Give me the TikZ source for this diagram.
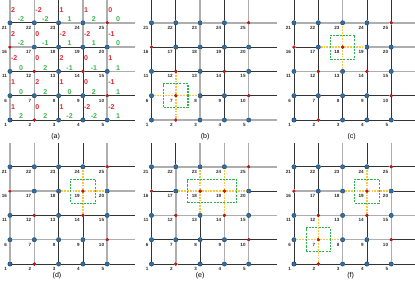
\documentclass[tikz,border=0pt]{standalone}
\usepackage{fontspec}
\setmainfont{Liberation Sans}
\usepackage{xcolor}
\usepackage{tikz}
\usetikzlibrary{arrows.meta,positioning,calc}

\definecolor{nodeblue}{HTML}{2F6FA8}
\definecolor{nodeline}{HTML}{1B3550}
\definecolor{nodered}{HTML}{DD1111}
\definecolor{edgedark}{HTML}{333333}
\definecolor{edgegray}{HTML}{AEAEAE}
\definecolor{pathyellow}{HTML}{F7C843}
\definecolor{boxgreen}{HTML}{2DB34E}
\definecolor{numred}{HTML}{E0262C}
\definecolor{numgreen}{HTML}{3AB54A}

% all links of one 5x5 grid (u = open end on top, e = open end on the right)
\def\gridlinks{1/6,6/11,11/16,16/21,21/u1,2/7,7/12,12/17,17/22,22/u2,3/8,8/13,13/18,18/23,23/u3,4/9,9/14,14/19,19/24,24/u4,5/10,10/15,15/20,20/25,25/u5,1/2,2/3,3/4,4/5,5/e1,6/7,7/8,8/9,9/10,10/e2,11/12,12/13,13/14,14/15,15/e3,16/17,17/18,18/19,19/20,20/e4,21/22,22/23,23/24,24/25,25/e5}

% #1 prefix, #2/#3 position of node 1, #4 blue nodes, #5 red nodes
\newcommand\gridnodes[5]{%
  \foreach \n in {#4}{%
    \pgfmathtruncatemacro\cc{mod(\n-1,5)}%
    \pgfmathtruncatemacro\rr{div(\n-1,5)}%
    \node[vtx] (#1\n) at ({#2+24.3*\cc},{#3-24.3*\rr}) {};}
  \foreach \n in {#5}{%
    \pgfmathtruncatemacro\cc{mod(\n-1,5)}%
    \pgfmathtruncatemacro\rr{div(\n-1,5)}%
    \node[hot] (#1\n) at ({#2+24.3*\cc},{#3-24.3*\rr}) {};}
  \foreach \n in {1,...,25}
    \node[lbl] (#1l\n) at ([xshift=-1.5mm,yshift=-1.6mm]#1\n.center) {\n};
  \foreach \k in {1,...,5}{%
    \coordinate (#1u\k) at ({#2+24.3*(\k-1)},{#3-24.3*4-23.5});
    \coordinate (#1e\k) at ({#2+24.3*4+28},{#3-24.3*(\k-1)});}
}
% #1 prefix, #2 style, #3 list of links
\newcommand\links[3]{%
  \edef\linklist{#3}%
  \foreach \p/\q in \linklist {\draw[#2] (#1\p) -- (#1\q);}
}

\begin{document}
\begin{tikzpicture}[x=0.5mm, y=-0.5mm,
  vtx/.style={circle, draw=nodeline, fill=nodeblue, line width=0.5pt, minimum size=2.2mm, inner sep=0pt},
  hot/.style={circle, draw=nodered!60!black, fill=nodered, line width=0.4pt, minimum size=1.6mm, inner sep=0pt},
  lbl/.style={anchor=north east, inner sep=0pt, text=black!85, font=\fontsize{6.5}{7}\selectfont\bfseries},
  hard/.style={draw, color=edgedark, line width=0.9pt},
  soft/.style={draw, color=edgegray, line width=2pt},
  gap/.style={draw, color=white, line width=2.4pt},
  trace/.style={draw, color=pathyellow, line width=2.2pt, dash pattern=on 2.6pt off 1.5pt},
  selbox/.style={draw, color=boxgreen, line width=1.5pt, dash pattern=on 3pt off 1.6pt, minimum width=12.2mm, minimum height=12mm, inner sep=0pt},
  wv/.style={anchor=west, inner sep=0pt, text=numred, font=\fontsize{10}{10}\selectfont\bfseries},
  wh/.style={inner sep=0pt, text=numgreen, font=\fontsize{10}{10}\selectfont\bfseries},
  panelcap/.style={inner sep=0pt, font=\fontsize{10}{12}\selectfont}]
  \useasboundingbox (0,0) rectangle (415,285);

  % (a) weights
  \begin{scope}
  \gridnodes{a}{10}{120}{1,3,4,5,6,7,8,9,11,13,15,17,18,19,20,21,22,23,24}{2,10,12,14,16,25}
  \links{a}{hard}{\gridlinks}
  \links{a}{soft}{1/6,6/11,11/16,16/21,21/u1,2/7,7/12,12/17,17/22,22/u2,19/24,24/u4,5/10,10/15,15/20,20/25,25/u5,23/24,24/25,25/e5,16/17,20/e4,15/e3}
  \foreach \n/\v/\h in {1/1/2,2/0/2,3/1/-2,4/-2/-2,5/-2/1,6/1/0,7/2/2,8/1/0,9/0/2,10/-1/1,
      11/-2/0,12/0/2,13/2/-1,14/0/-1,15/1/1,16/2/-2,17/0/-1,18/-2/1,19/-2/1,20/-1/0,
      21/2/-2,22/-2/-2,23/1/1,24/1/2,25/0/0}{
    \node[wv] (av\n) at ([xshift=0.5mm,yshift=6.6mm]a\n.center) {\v};
    \node[wh] (ah\n) at ([xshift=5.5mm,yshift=1.8mm]a\n.center) {\h};
  }
  \node[panelcap] (acap) at ([xshift=-1.5mm,yshift=-8.5mm]a3.center) {(a)};
  \end{scope}

  % (b)
  \begin{scope}
  \gridnodes{b}{151.5}{120}{1,3,4,5,6,8,9,11,13,15,17,18,19,20,21,22,23,24}{2,7,10,12,14,16,25}
  \links{b}{hard}{\gridlinks}
  \links{b}{soft}{3/8,8/13,13/18,18/23,23/u3,5/10,10/15,15/20,20/25,25/u5,21/22,22/23,23/24,24/25,25/e5,1/2,2/3,3/4,4/5,5/e1}
  \links{b}{gap}{7/12,2/7,6/7,7/8}
  \links{b}{trace}{7/12,2/7,6/7,7/8}
  \node[selbox] (bsel) at (b7) {};
  \node[panelcap] (bcap) at ([xshift=2.5mm,yshift=-8.5mm]b3.center) {(b)};
  \end{scope}

  % (c)
  \begin{scope}
  \gridnodes{c}{294}{120}{1,3,4,5,6,7,8,9,11,13,15,17,19,20,21,22,23,24}{2,10,12,14,16,18,25}
  \links{c}{hard}{\gridlinks}
  \links{c}{soft}{23/u3,21/22,22/23,23/24,24/25,25/e5,19/20,20/e4,11/12,12/13,13/14,14/15,15/e3}
  \links{c}{gap}{18/23,13/18,17/18,18/19}
  \links{c}{trace}{18/23,13/18,17/18,18/19}
  \node[selbox] (csel) at (c18) {};
  \node[panelcap] (ccap) at ([xshift=4.5mm,yshift=-8.5mm]c3.center) {(c)};
  \end{scope}

  % (d)
  \begin{scope}
  \gridnodes{d}{10}{264}{1,3,4,5,6,7,8,9,11,13,15,17,18,20,21,22,23,24}{2,10,12,14,16,19,25}
  \links{d}{hard}{\gridlinks}
  \links{d}{soft}{1/6,6/11,11/16,16/21,21/u1,2/7,7/12,12/17,17/22,22/u2,5/10,10/15,15/20,20/25,25/u5,16/17,17/18,20/e4,6/7,7/8,8/9,9/10,10/e2}
  \links{d}{gap}{19/24,14/19,18/19,19/20}
  \links{d}{trace}{19/24,14/19,18/19,19/20}
  \node[selbox] (dsel) at (d19) {};
  \node[panelcap] (dcap) at ([xshift=-0.8mm,yshift=-6mm]d3.center) {(d)};
  \end{scope}

  % (e)
  \begin{scope}
  \gridnodes{e}{151.5}{264}{1,3,4,5,6,7,8,9,11,13,15,17,20,21,22,23,24}{2,10,12,14,16,18,19,25}
  \links{e}{hard}{\gridlinks}
  \links{e}{soft}{23/u3,24/u4,4/9,9/14,2/7,7/12,12/17,17/22,5/10,10/15,15/20,20/25,25/u5,21/22,22/23,23/24,24/25,25/e5,11/12,12/13,13/14,14/15,15/e3}
  \links{e}{gap}{18/23,13/18,17/18,18/19,19/24,14/19,19/20}
  \links{e}{trace}{18/23,13/18,17/18,18/19,19/24,14/19,19/20}
  \node[selbox, minimum width=24.5mm, minimum height=11.6mm] (esel) at ($(e18)!0.5!(e19)$) {};
  \node[panelcap] (ecap) at ([yshift=-6mm]e3.center) {(e)};
  \end{scope}

  % (f)
  \begin{scope}
  \gridnodes{f}{294}{264}{1,3,4,5,6,8,9,11,13,15,17,18,20,21,22,23,24}{2,7,10,12,14,16,19,25}
  \links{f}{hard}{\gridlinks}
  \links{f}{soft}{3/8,8/13,13/18,18/23,23/u3,5/10,10/15,15/20,20/25,25/u5,16/17,17/18,11/12,12/13,13/14,14/15,15/e3,8/9,9/10}
  \links{f}{gap}{7/12,2/7,6/7,7/8,19/24,14/19,18/19,19/20}
  \links{f}{trace}{7/12,2/7,6/7,7/8,19/24,14/19,18/19,19/20}
  \node[selbox] (fsel1) at (f7) {};
  \node[selbox] (fsel2) at (f19) {};
  \node[panelcap] (fcap) at ([xshift=4mm,yshift=-6mm]f3.center) {(f)};
  \end{scope}
\end{tikzpicture}
\end{document}
